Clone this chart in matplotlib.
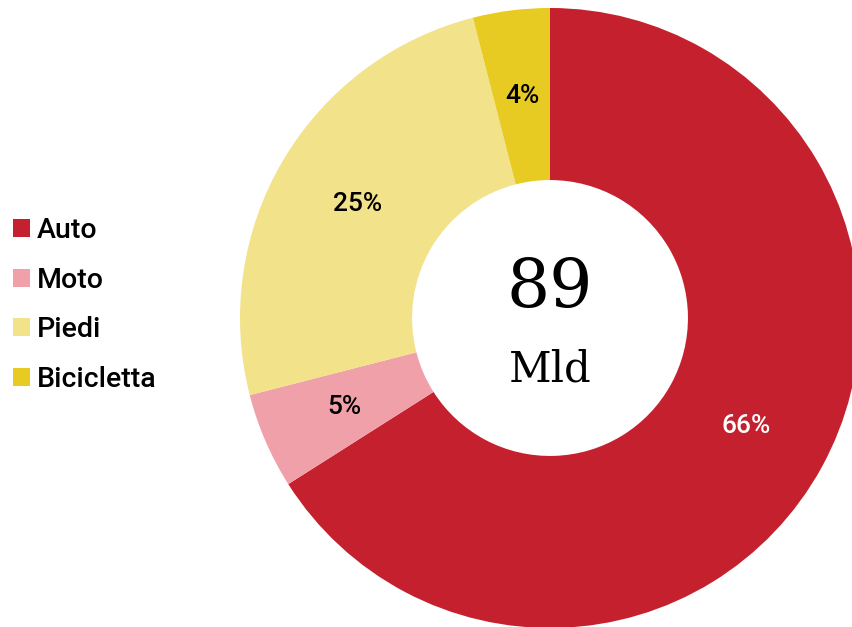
import matplotlib.pyplot as plt
from matplotlib.patches import Patch

labels = ['Auto', 'Moto', 'Piedi', 'Bicicletta']
shares = [66, 5, 25, 4]
colors = ['#C5202E', '#F0A0A8', '#F2E289', '#E8CB22']
pct_colors = ['white', 'black', 'black', 'black']
total_label = '89'
unit_label = 'Mld'

plt.rcParams['font.family'] = ['Roboto', 'DejaVu Sans']
plt.rcParams['font.weight'] = 'medium'

fig = plt.figure(figsize=(8.53, 6.27), dpi=100)
ax = fig.add_axes([240 / 853, -1 / 627, 620 / 853, 620 / 627])

wedges, texts, autotexts = ax.pie(
    shares, colors=colors, startangle=90, counterclock=False,
    radius=1, wedgeprops=dict(width=0.555, linewidth=0),
    autopct='%d%%', pctdistance=0.723,
    textprops=dict(fontsize=19))
for t, c in zip(autotexts, pct_colors):
    t.set_color(c)
ax.set_xlim(-1, 1)
ax.set_ylim(-1, 1)
ax.set_aspect('equal')

# centre text
ax.text(0, 0.097, total_label, ha='center', va='center', fontsize=49,
        family='DejaVu Serif', weight='normal')
ax.text(0, -0.165, unit_label, ha='center', va='center', fontsize=30,
        family='DejaVu Serif', weight='normal')

handles = [Patch(facecolor=c, edgecolor='none') for c in colors]
fig.legend(handles, labels, loc='center left', bbox_to_anchor=(0.0, 322 / 627),
           frameon=False, fontsize=20.5, handlelength=0.6, handleheight=0.6,
           handletextpad=0.25, labelspacing=0.8, borderpad=0, borderaxespad=0.45)

fig.savefig('out.png', dpi=100)
